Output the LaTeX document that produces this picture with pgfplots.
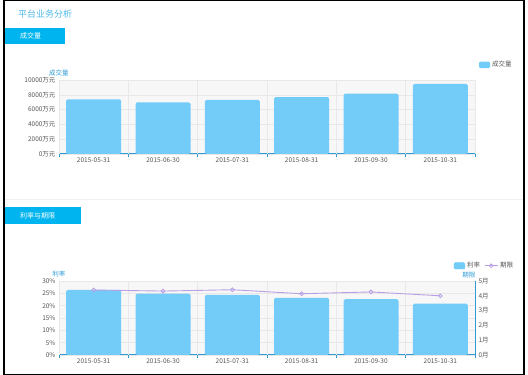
\documentclass[border=0pt]{standalone}
\usepackage{fontspec}
\setmainfont{Noto Sans CJK SC}
\usepackage{pgfplots}
\pgfplotsset{compat=1.18}
\definecolor{barc}{HTML}{73CBF8}
\definecolor{linec}{HTML}{B9A0E4}
\definecolor{axisc}{HTML}{2E9BD6}
\definecolor{tabc}{HTML}{00B5EF}
\definecolor{titlec}{HTML}{4DB8E8}
\definecolor{tickc}{HTML}{555555}
\definecolor{gridc}{HTML}{E8E8E8}
\definecolor{bgc}{HTML}{F7F7F7}
\pgfplotsset{
  common/.style={
    scale only axis, width=416pt,
    xmin=-0.5, xmax=5.5,
    xtick={0,...,5},
    xticklabels={2015-05-31,2015-06-30,2015-07-31,2015-08-31,2015-09-30,2015-10-31},
    major tick length=0pt,
    extra x ticks={-0.5,0.5,1.5,2.5,3.5,4.5,5.5},
    extra x tick labels={},
    extra x tick style={major tick length=3pt, tick align=outside, grid=major},
    axis x line*=bottom, axis y line*=left,
    axis line style={axisc, line width=1pt},
    tick style={axisc, line width=0.6pt},
    major grid style={draw=gridc, line width=0.5pt},
    ymajorgrids=true,
    scaled y ticks=false,
    ticklabel style={font=\fontsize{6.5}{7}\selectfont, text=tickc},
    axis background/.style={fill=bgc},
    legend style={draw=none, fill=none, font=\fontsize{6.5}{7}\selectfont, text=tickc},
  },
  barleg/.style={legend image code/.code={\fill[barc, rounded corners=1.2pt] (0pt,-3.2pt) rectangle (11pt,3.2pt);}},
  lineleg/.style={legend image code/.code={\draw[##1, mark repeat=2, mark phase=2] plot coordinates {(0pt,0pt) (6.5pt,0pt) (13pt,0pt)};}},
}
\begin{document}
\begin{tikzpicture}[x=1pt,y=1pt]
\path[use as bounding box] (0,0) rectangle (528,375);
\coordinate (c1) at (59,221);
\coordinate (c2) at (59,20);
\draw[black, line width=1.2pt] (4,0.6) rectangle (524,374.4);
\node[anchor=west, text=titlec, font=\fontsize{9}{10}\selectfont, inner sep=0pt] at (18,361) {平台业务分析};
\fill[tabc] (5,331) rectangle (65,347);
\node[anchor=west, text=white, font=\fontsize{7}{8}\selectfont, inner sep=0pt] at (20,339) {成交量};
\draw[gray!12, line width=1pt] (5,175) -- (523,175);
\fill[tabc] (5,151) rectangle (81,168);
\node[anchor=west, text=white, font=\fontsize{7}{8}\selectfont, inner sep=0pt] at (20,159.5) {利率与期限};

% top chart
\begin{axis}[common, at={(c1)}, anchor=south west, height=74pt,
  ymin=0, ymax=10000,
  ytick={0,2000,4000,6000,8000,10000},
  yticklabels={0万元,2000万元,4000万元,6000万元,8000万元,10000万元},
  legend style={at={(1.002,1.205)}, anchor=west},
  clip=false]
\addplot[ybar, bar width=55pt, fill=barc, draw=none, rounded corners=1.5pt, barleg]
  coordinates {(0,7390) (1,6990) (2,7300) (3,7700) (4,8150) (5,9460)};
\addlegendentry{成交量}
\node[anchor=south, text=axisc, font=\fontsize{6.5}{7}\selectfont, inner sep=1pt, yshift=3pt] at (rel axis cs:0,1) {成交量};
\end{axis}

% bottom chart, bars
\begin{axis}[common, at={(c2)}, anchor=south west, height=74pt,
  ymin=0, ymax=30,
  ytick={0,5,10,15,20,25,30},
  yticklabels={0\%,5\%,10\%,15\%,20\%,25\%,30\%},
  clip=false]
\addplot[ybar, bar width=55pt, fill=barc, draw=none, rounded corners=1.5pt]
  coordinates {(0,26.4) (1,24.9) (2,24.4) (3,23.2) (4,22.6) (5,20.8)};
\node[anchor=south, text=axisc, font=\fontsize{6.5}{7}\selectfont, inner sep=1pt, yshift=3pt] at (rel axis cs:0,1) {利率};
\end{axis}

% bottom chart, line
\begin{axis}[scale only axis, width=416pt, height=74pt, at={(c2)}, anchor=south west,
  xmin=-0.5, xmax=5.5, ymin=0, ymax=5,
  axis x line=none, axis y line*=right,
  axis line style={axisc, line width=1pt},
  major tick length=0pt,
  ytick={0,1,2,3,4,5},
  yticklabels={0月,1月,2月,3月,4月,5月},
  ticklabel style={font=\fontsize{6.5}{7}\selectfont, text=tickc},
  legend columns=2,
  legend style={draw=none, fill=none, font=\fontsize{6.5}{7}\selectfont, text=tickc,
    at={(1.104,1.205)}, anchor=east, /tikz/every even column/.append style={column sep=2pt}},
  clip=false]
\addlegendimage{barleg}
\addlegendentry{利率}
\addplot[linec, line width=0.9pt, mark=o, mark size=1.9pt, mark options={fill=white, line width=0.8pt}, lineleg]
  coordinates {(0,4.39) (1,4.32) (2,4.41) (3,4.14) (4,4.26) (5,4.0)};
\addlegendentry{期限}
\node[anchor=south, text=axisc, font=\fontsize{6.5}{7}\selectfont, inner sep=1pt, yshift=2pt] at (rel axis cs:0.985,1) {期限};
\end{axis}
\end{tikzpicture}
\end{document}
